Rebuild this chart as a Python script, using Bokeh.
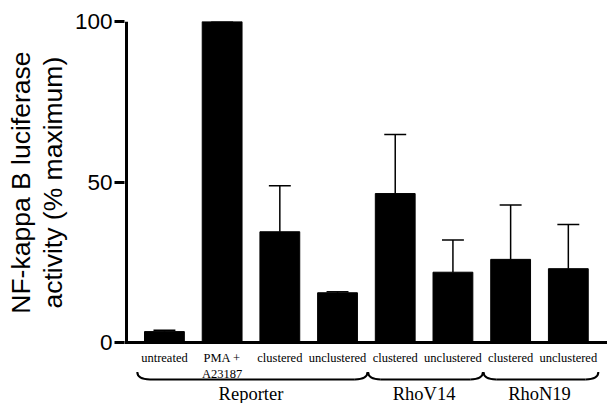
import math
from bokeh.plotting import figure
from bokeh.layouts import row
from bokeh.models import Range1d, FixedTicker, Span, ColumnDataSource
from bokeh.core.properties import value
from bokeh.embed import file_html
from bokeh.resources import INLINE

# ---- data ----
categories = ["untreated", "PMA +\nA23187", "clustered", "unclustered",
              "clustered", "unclustered", "clustered", "unclustered"]
groups = ["Reporter", "Reporter", "Reporter", "Reporter",
          "RhoV14", "RhoV14", "RhoN19", "RhoN19"]
values = [3.4, 100.0, 34.5, 15.5, 46.4, 21.9, 25.9, 23.0]
errors = [0.4, 0.0, 14.3, 0.3, 18.4, 10.0, 16.9, 13.8]
y_ticks = [0, 50, 100]
y_title_lines = ["NF-kappa B luciferase", "activity (% maximum)"]

# ---- layout ----
W, H = 607, 403
TW = 70                           # width of the strip holding the y title
PITCH = 57.7                      # px per category
X0 = -0.692
X1 = X0 + 483 / PITCH
Y0, Y1 = -19.0, 100.0

# strip with the two-line rotated y-axis title
t = figure(width=TW, height=H, output_backend="svg", toolbar_location=None,
           x_range=Range1d(0, TW), y_range=Range1d(0, H),
           x_axis_location=None, y_axis_location=None,
           min_border_left=0, min_border_right=0, min_border_top=0,
           min_border_bottom=0)
t.grid.visible = False
t.outline_line_color = None
t.background_fill_color = "white"
t.border_fill_color = "white"
t.text(x=[20.5, 52.0], y=[H - 170, H - 170], text=y_title_lines, angle=math.pi / 2,
       text_font=value("Liberation Sans"), text_font_size="26.5px",
       text_align="center", text_baseline="alphabetic", text_color="black")

p = figure(width=W - TW, height=H, output_backend="svg", toolbar_location=None,
           x_range=Range1d(X0, X1), y_range=Range1d(Y0, Y1),
           x_axis_location=None, y_axis_location="left",
           min_border_left=124 - TW, min_border_right=0, min_border_top=21,
           min_border_bottom=0)
p.grid.visible = False
p.outline_line_color = None
p.background_fill_color = "white"
p.border_fill_color = "white"

ax = p.yaxis[0]
ax.ticker = FixedTicker(ticks=y_ticks)
ax.axis_line_color = None        # the line itself is drawn below, 0..100
ax.major_tick_line_width = 3
ax.major_tick_line_color = "black"
ax.major_tick_out = 10
ax.major_tick_in = 0
ax.minor_tick_line_color = None
ax.major_label_text_font = "Liberation Sans"
ax.major_label_text_font_size = "22.5px"
ax.major_label_text_color = "black"
ax.major_label_standoff = 2

# y axis line (0..100)
ax_x = X0 + 2.0 / PITCH
p.segment(x0=[ax_x], y0=[min(y_ticks)], x1=[ax_x], y1=[max(y_ticks)],
          line_color="black", line_width=3)

xs = list(range(len(categories)))
uppers = [v + e for v, e in zip(values, errors)]
src = ColumnDataSource(dict(x=xs, top=values, upper=uppers, cat=categories))

p.vbar(x="x", top="top", bottom=0, width=0.69, source=src,
       fill_color="black", line_color="black")

# error bars (upper only)
p.segment(x0="x", y0="top", x1="x", y1="upper", source=src,
          line_color="black", line_width=1.5)
cap = 0.19
p.segment(x0=[x - cap for x in xs], y0=uppers, x1=[x + cap for x in xs], y1=uppers,
          line_color="black", line_width=1.5)

# x axis line
p.add_layout(Span(location=0, dimension="width", line_color="black", line_width=3))

# category labels
p.text(x="x", y=-2.5, text="cat", source=src,
       text_font=value("Liberation Serif"), text_font_size="12.5px",
       text_align="center", text_baseline="top", text_color="black",
       text_line_height=1.2)

# group braces and labels
group_names = []
for g in groups:
    if g not in group_names:
        group_names.append(g)

y_top, y_bot, w = -9.2, -11.5, 0.22
for g in group_names:
    idx = [i for i, gg in enumerate(groups) if gg == g]
    a = idx[0] - 0.47
    b = idx[-1] + 0.52
    p.quadratic(x0=[a], y0=[y_top], x1=[a + w], y1=[y_bot], cx=[a], cy=[y_bot],
                line_color="black", line_width=2)
    p.segment(x0=[a + w], y0=[y_bot], x1=[b - w], y1=[y_bot],
              line_color="black", line_width=2)
    p.quadratic(x0=[b - w], y0=[y_bot], x1=[b], y1=[y_top], cx=[b], cy=[y_bot],
                line_color="black", line_width=2)
    p.text(x=[(idx[0] + idx[-1]) / 2.0], y=[-15.9], text=[g],
           text_font=value("Liberation Serif"), text_font_size="18.5px",
           text_align="center", text_baseline="alphabetic", text_color="black")

layout = row(t, p, spacing=0)
open("out.html", "w").write(file_html(layout, INLINE))
